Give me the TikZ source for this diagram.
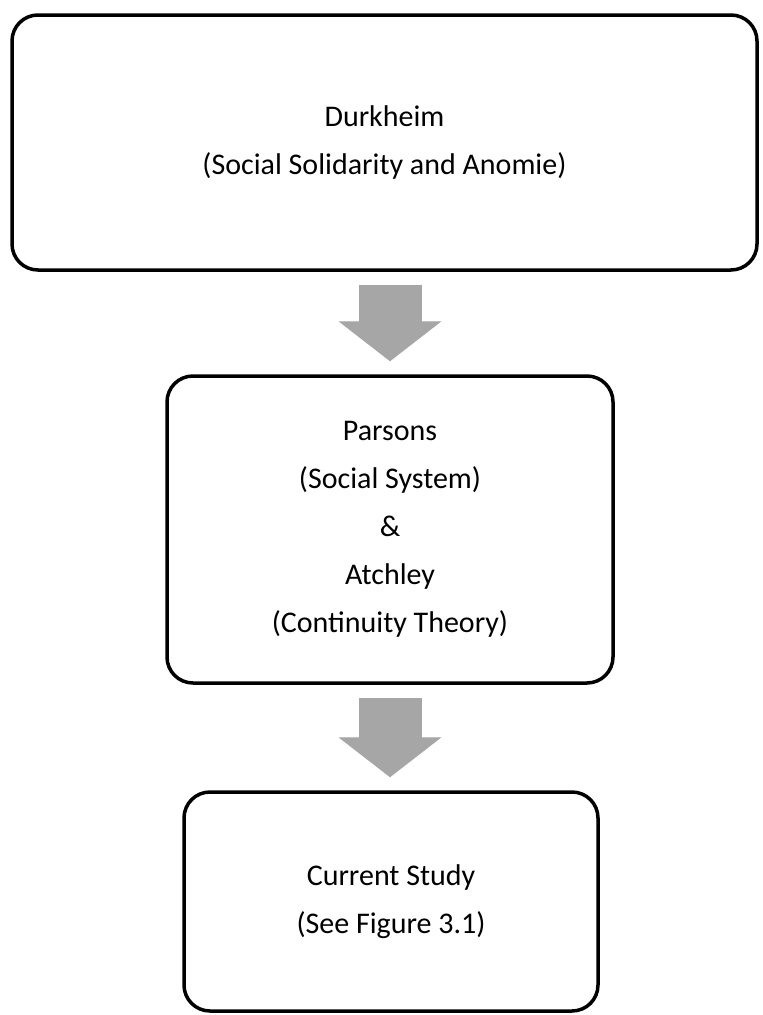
\documentclass[tikz,border=0pt]{standalone}
\usepackage{fontspec}
\setmainfont{Carlito}
\usepackage{tikz}
\usetikzlibrary{arrows.meta}

\definecolor{arrowgray}{RGB}{166,166,166}

\tikzset{
    stagebox/.style={draw, line width=3.5pt, rounded corners=26pt, align=center,
        font=\fontsize{30}{48}\selectfont},
    blockarrow/.style={draw=arrowgray, line width=63pt, shorten <=13pt, shorten >=13pt,
        -{Triangle[width=103pt,length=40pt,line width=1pt]}}
}

\begin{document}
\begin{tikzpicture}[x=1pt,y=-1pt]
    \useasboundingbox (0,0) rectangle (763,1015);
    \node[stagebox, minimum width=745pt, minimum height=255pt] (durk) at (384.5,142.5)
        {Durkheim\\(Social Solidarity and Anomie)};
    \node[stagebox, minimum width=446pt, minimum height=307pt] (pars) at (390,529.5)
        {Parsons\\(Social System)\\\&\\Atchley\\(Continuity Theory)};
    \node[stagebox, minimum width=414pt, minimum height=219pt] (curr) at (391,901.5)
        {Current Study\\(See Figure 3.1)};
    \draw[blockarrow] (pars.north |- durk.south) -- (pars.north);
    \draw[blockarrow] (pars.south) -- (pars.south |- curr.north);
\end{tikzpicture}
\end{document}
